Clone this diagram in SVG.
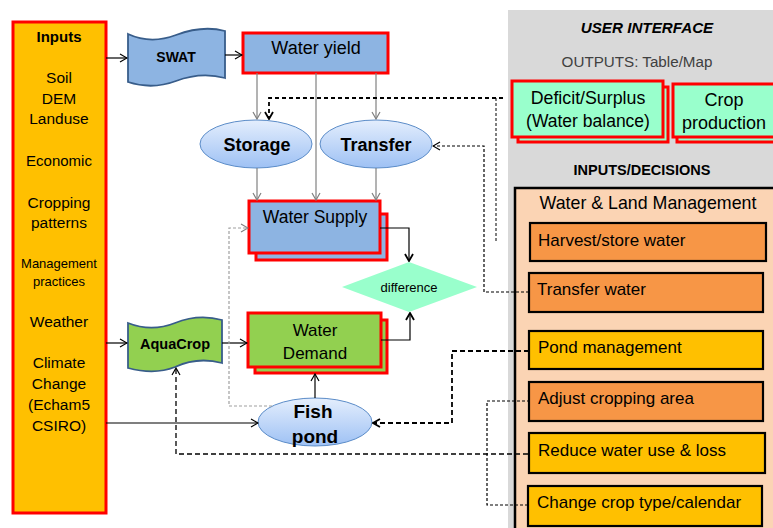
<svg xmlns="http://www.w3.org/2000/svg" width="773" height="528" viewBox="0 0 773 528">
<style>
text{font-family:"Liberation Sans",Arial,sans-serif;fill:#000}
.c{text-anchor:middle}
.b{font-weight:bold}
.red{stroke:#FF0000;stroke-width:3}
.blue{fill:#8DB4E2}
.green{fill:#92D050}
.mint{fill:#99FFCC}
.wave{stroke:#385D8A;stroke-width:1.8}
.ell{fill:url(#eg);stroke:#5B8CC8;stroke-width:1}
.dec{stroke:#000;stroke-width:2.2}
.or{fill:#F79646}
.ye{fill:#FFC000}
.g{fill:none;stroke:#808080;stroke-width:1.2}
.k{fill:none;stroke:#000;stroke-width:1.2}
.d{fill:none;stroke:#000}
.dt{font-size:17px}
</style>
<defs>
<linearGradient id="eg" x1="0" y1="0" x2="0" y2="1">
<stop offset="0" stop-color="#E4EEFD"/>
<stop offset="1" stop-color="#9EC1F4"/>
</linearGradient>
<marker id="ak" markerWidth="10" markerHeight="10" refX="9" refY="5" orient="auto" markerUnits="userSpaceOnUse"><path d="M2,1 L9,5 L2,9" fill="none" stroke="#000" stroke-width="1.2"/></marker>
<marker id="ag" markerWidth="10" markerHeight="10" refX="9" refY="5" orient="auto" markerUnits="userSpaceOnUse"><path d="M2,1 L9,5 L2,9" fill="none" stroke="#808080" stroke-width="1.2"/></marker>
<marker id="ad" markerWidth="10" markerHeight="10" refX="9" refY="5" orient="auto" markerUnits="userSpaceOnUse"><path d="M2,1 L9,5 L2,9" fill="none" stroke="#000" stroke-width="1.8"/></marker>
</defs>

<g id="user-interface">
<rect x="508" y="10" width="265" height="518" fill="#D9D9D9"/>
<text class="c b" x="647" y="33" font-size="15.2" font-style="italic">USER INTERFACE</text>
<text class="c" x="637" y="67" font-size="15.2" style="fill:#404040">OUTPUTS: Table/Map</text>
<text class="c b" x="642" y="175" font-size="14.5">INPUTS/DECISIONS</text>
</g>

<g id="deficit">
<rect x="518" y="87" width="150" height="55" class="mint red"/>
<rect x="512" y="81" width="151" height="56" class="mint red"/>
<text class="c" x="588" y="104" font-size="17.8">Deficit/Surplus</text>
<text class="c" x="588" y="127" font-size="17.5">(Water balance)</text>
</g>
<g id="crop-production">
<rect x="677" y="90" width="110" height="52" class="mint red"/>
<rect x="673" y="84" width="110" height="53" class="mint red"/>
<text class="c" x="724" y="106" font-size="18">Crop</text>
<text class="c" x="724" y="129" font-size="18">production</text>
</g>

<g id="management">
<rect x="515" y="188" width="270" height="350" fill="#FBD4B4" stroke="#000" stroke-width="2.5"/>
<text class="c" x="648" y="209" font-size="17.8">Water &amp; Land Management</text>
</g>
<g id="harvest"><rect x="530" y="223" width="236" height="38" class="or dec"/><text class="dt" x="538" y="246">Harvest/store water</text></g>
<g id="transfer-water"><rect x="529" y="273" width="234" height="39" class="or dec"/><text class="dt" x="537" y="295">Transfer water</text></g>
<g id="pond-management"><rect x="529" y="331" width="234" height="38" class="ye dec"/><text class="dt" x="538" y="353">Pond management</text></g>
<g id="adjust-area"><rect x="529" y="382" width="234" height="39" class="or dec"/><text class="dt" x="538" y="404">Adjust cropping area</text></g>
<g id="reduce-water"><rect x="529" y="433" width="236" height="40" class="ye dec"/><text class="dt" x="538" y="456">Reduce water use &amp; loss</text></g>
<g id="change-crop"><rect x="528" y="486" width="234" height="40" class="ye dec"/><text class="dt" x="537" y="508">Change crop type/calendar</text></g>

<g id="inputs">
<rect x="13" y="22" width="93" height="491" fill="#FFC000" class="red"/>
<text class="c b" x="59" y="42" font-size="15">Inputs</text>
<text class="c" x="59" y="83" font-size="15.5">Soil</text>
<text class="c" x="59" y="104" font-size="15.5">DEM</text>
<text class="c" x="59" y="124" font-size="15.5">Landuse</text>
<text class="c" x="59" y="166" font-size="15">Economic</text>
<text class="c" x="59" y="208" font-size="15.5">Cropping</text>
<text class="c" x="59" y="228" font-size="15.5">patterns</text>
<text class="c" x="59" y="268" font-size="13">Management</text>
<text class="c" x="59" y="286" font-size="13">practices</text>
<text class="c" x="59" y="327" font-size="15.5">Weather</text>
<text class="c" x="59" y="368" font-size="15.5">Climate</text>
<text class="c" x="59" y="389" font-size="15.5">Change</text>
<text class="c" x="59" y="410" font-size="15.5">(Echam5</text>
<text class="c" x="59" y="431" font-size="15.5">CSIRO)</text>
</g>

<g id="swat">
<path d="M128,34 C143,41 160,41 176,35 C192,29 210,27 225,31 L225,78 C210,74 192,75 176,81 C160,87 143,87 128,82 Z" class="blue wave"/>
<text class="c b" x="176" y="62" font-size="14">SWAT</text>
</g>
<g id="aquacrop">
<path d="M128,323 C143,329 160,329 175,323 C190,317 207,316 222,320 L222,363 C207,359 190,360 175,367 C160,373 143,372 128,368 Z" class="green wave"/>
<text class="c b" x="175" y="349" font-size="14.5">AquaCrop</text>
</g>

<g id="water-yield">
<rect x="243" y="33" width="145" height="40" class="blue red"/>
<text class="c" x="316" y="54" font-size="18">Water yield</text>
</g>
<g id="storage">
<ellipse cx="256" cy="144" rx="56" ry="24" class="ell"/>
<text class="c b" x="257" y="151" font-size="18">Storage</text>
</g>
<g id="transfer">
<ellipse cx="376" cy="144" rx="56" ry="24" class="ell"/>
<text class="c b" x="376" y="151" font-size="18">Transfer</text>
</g>
<g id="water-supply">
<rect x="256" y="214" width="131" height="46" class="blue red"/>
<rect x="249" y="201" width="131" height="52" class="blue red"/>
<text class="c" x="315" y="223" font-size="17.5">Water Supply</text>
</g>
<g id="difference">
<polygon points="409,262 477,287 409,312 342,287" fill="#99FFCC"/>
<text class="c" x="409" y="292" font-size="13">difference</text>
</g>
<g id="water-demand">
<rect x="255" y="320" width="132" height="53" class="green red"/>
<rect x="248" y="313" width="133" height="54" class="green red"/>
<text class="c" x="315" y="336" font-size="17">Water</text>
<text class="c" x="315" y="359" font-size="17">Demand</text>
</g>
<g id="fish-pond">
<ellipse cx="315" cy="422" rx="57" ry="24" class="ell"/>
<text class="c b" x="313" y="418" font-size="19">Fish</text>
<text class="c b" x="315" y="443" font-size="19">pond</text>
</g>

<g id="connectors">
<path d="M106,58 L127,58" class="k" stroke-width="2" marker-end="url(#ak)"/>
<path d="M225,55 L242,55" class="k" marker-end="url(#ak)"/>
<path d="M257,73 L257,119" class="g" marker-end="url(#ag)"/>
<path d="M316,73 L316,200" class="g" marker-end="url(#ag)"/>
<path d="M376,73 L376,119" class="g" marker-end="url(#ag)"/>
<path d="M257,168 L257,200" class="g" marker-end="url(#ag)"/>
<path d="M376,168 L376,200" class="g" marker-end="url(#ag)"/>
<path d="M380,228 L409,228 L409,261" class="k" stroke-width="1.5" marker-end="url(#ad)"/>
<path d="M381,340 L410,340 L410,313" class="k" stroke-width="1.5" marker-end="url(#ad)"/>
<path d="M106,343 L127,343" class="k" marker-end="url(#ak)"/>
<path d="M222,343 L247,343" class="k" marker-end="url(#ak)"/>
<path d="M106,423 L258,423" class="k" marker-end="url(#ak)"/>
<path d="M315,398 L315,374" class="k" marker-end="url(#ak)"/>
<path d="M272,406 L229,406 L229,228 L248,228" fill="none" stroke="#A0A0A0" stroke-width="1.2" stroke-dasharray="3,2" marker-end="url(#ag)"/>
<path d="M503,98 L269,98 L269,119" class="d" stroke-width="1.8" stroke-dasharray="4,3" marker-end="url(#ad)"/>
<path d="M496,98 L496,243" class="d" stroke-width="1" stroke-dasharray="3,2"/>
<path d="M529,292 L484,292 L484,146 L433,146" class="d" stroke-width="1.2" stroke-dasharray="3,2" marker-end="url(#ak)"/>
<path d="M529,351 L452,351 L452,423 L373,423" class="d" stroke-width="1.8" stroke-dasharray="5,3" marker-end="url(#ad)"/>
<path d="M530,401 L487,401 L487,505 L528,505" class="d" stroke-width="1.2" stroke-dasharray="3,2"/>
<path d="M528,454 L176,454 L176,368" class="d" stroke-width="1.3" stroke-dasharray="5,3" marker-end="url(#ak)"/>
</g>
</svg>
